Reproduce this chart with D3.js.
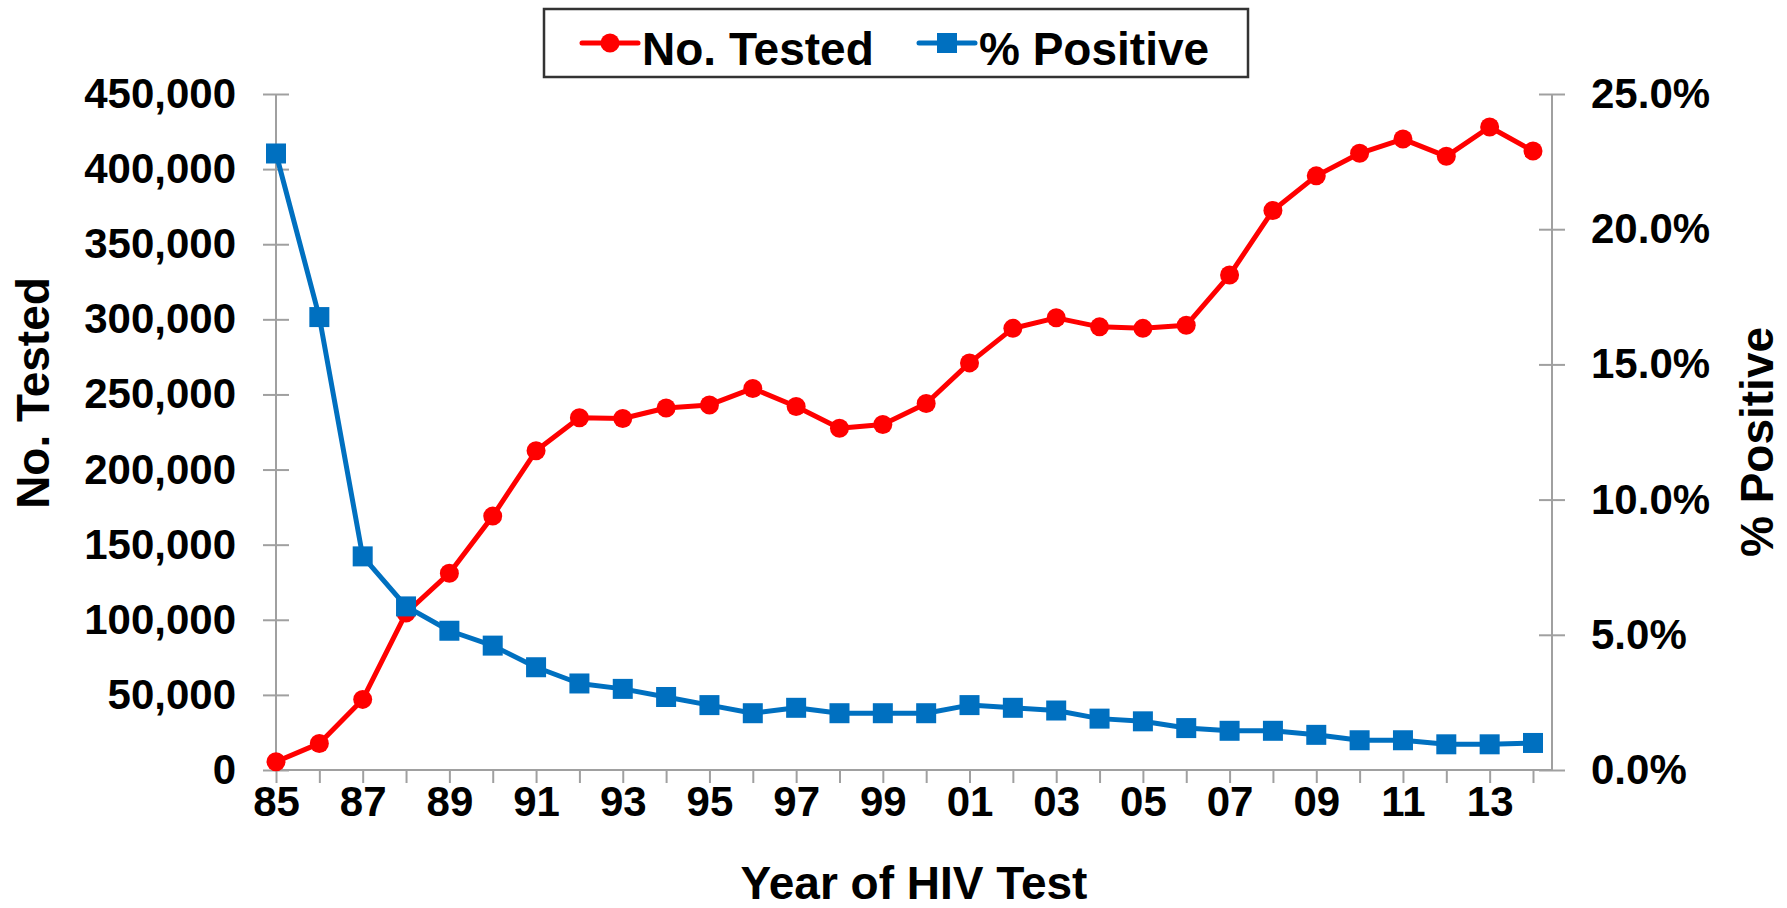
<!DOCTYPE html>
<html>
<head>
<meta charset="utf-8">
<script src="https://cdn.jsdelivr.net/npm/d3@7"></script>
<style>
  body { margin: 0; background: #fff; }
  text { font-family: "Liberation Sans", Arial, sans-serif; font-weight: bold; fill: #000; }
</style>
</head>
<body>
<svg id="chart" width="1787" height="908"></svg>
<script>
// HIV testing: number tested vs percent positive, 1985-2014

var years = [1985, 1986, 1987, 1988, 1989, 1990, 1991, 1992, 1993, 1994,
             1995, 1996, 1997, 1998, 1999, 2000, 2001, 2002, 2003, 2004,
             2005, 2006, 2007, 2008, 2009, 2010, 2011, 2012, 2013, 2014];

var noTested = [5500, 17700, 47000, 104500, 131000, 169000, 212500, 234500, 234000, 241000,
                243000, 254000, 242000, 227500, 230000, 244000, 271000, 294000, 301000, 295000,
                294000, 296000, 329500, 372500, 395500, 410500, 420000, 408500, 428000, 412000];

// percent values
var pctPositive = [22.8, 16.75, 7.9, 6.05, 5.15, 4.6, 3.8, 3.2, 3.0, 2.7,
                   2.4, 2.1, 2.3, 2.1, 2.1, 2.1, 2.4, 2.3, 2.2, 1.9,
                   1.8, 1.55, 1.45, 1.45, 1.3, 1.1, 1.1, 0.95, 0.95, 1.0];

var leftTicks = [0, 50000, 100000, 150000, 200000, 250000, 300000, 350000, 400000, 450000];
var rightTicks = [0, 5, 10, 15, 20, 25];
var seriesNames = ["No. Tested", "% Positive"];

var red = "#ff0000";
var blue = "#0070c0";
var axisColor = "#a0a0a0";

var svg = d3.select("#chart");

// plot box (window.top is read-only, so no "top" here)
var pLeft = 276, pRight = 1552, pTop = 94, pBottom = 770;

var x = d3.scaleLinear().domain([1985, 2014]).range([pLeft, 1533]);
var yL = d3.scaleLinear().domain([0, 450000]).range([pBottom, pTop]);
var yR = d3.scaleLinear().domain([0, 25]).range([pBottom, pTop]);

// baseline across the full plot
svg.append("line")
  .attr("x1", pLeft).attr("x2", pRight)
  .attr("y1", pBottom).attr("y2", pBottom)
  .attr("stroke", axisColor).attr("stroke-width", 2);

// x axis
var xAxis = svg.append("g")
  .attr("transform", "translate(0," + pBottom + ")")
  .call(d3.axisBottom(x)
    .tickValues(years)
    .tickSize(13)
    .tickPadding(3)
    .tickFormat(function(d) { return (d % 2 == 1) ? String(d % 100).padStart(2, "0") : ""; }));
xAxis.select(".domain").remove();
xAxis.selectAll("line").attr("stroke", axisColor).attr("stroke-width", 2);
xAxis.selectAll("text").style("font-size", "42px").attr("dy", "0.71em");

// left axis
var lAxis = svg.append("g")
  .attr("transform", "translate(" + pLeft + ",0)")
  .call(d3.axisLeft(yL)
    .tickValues(leftTicks)
    .tickSize(13)
    .tickPadding(27)
    .tickFormat(d3.format(",")));
lAxis.select(".domain").attr("stroke", axisColor).attr("stroke-width", 2).attr("d", "M0," + pTop + "V" + pBottom);
lAxis.selectAll(".tick line").attr("x1", 13).attr("stroke", axisColor).attr("stroke-width", 2);
lAxis.selectAll("text").style("font-size", "42px");

// right axis
var rAxis = svg.append("g")
  .attr("transform", "translate(" + pRight + ",0)")
  .call(d3.axisRight(yR)
    .tickValues(rightTicks)
    .tickSize(13)
    .tickPadding(26)
    .tickFormat(function(d) { return d.toFixed(1) + "%"; }));
rAxis.select(".domain").attr("stroke", axisColor).attr("stroke-width", 2).attr("d", "M0," + pTop + "V" + pBottom);
rAxis.selectAll(".tick line").attr("x1", -13).attr("stroke", axisColor).attr("stroke-width", 2);
rAxis.selectAll("text").style("font-size", "42px");

// axis titles
svg.append("text")
  .attr("transform", "translate(49,393) rotate(-90)")
  .attr("text-anchor", "middle")
  .style("font-size", "46px")
  .text("No.  Tested");

svg.append("text")
  .attr("transform", "translate(1773,442) rotate(-90)")
  .attr("text-anchor", "middle")
  .style("font-size", "46px")
  .text("% Positive");

svg.append("text")
  .attr("x", (pLeft + pRight) / 2)
  .attr("y", 899)
  .attr("text-anchor", "middle")
  .style("font-size", "46px")
  .text("Year of HIV Test");

// series data
var testedData = years.map(function(y, i) { return {year: y, v: noTested[i]}; });
var posData = years.map(function(y, i) { return {year: y, v: pctPositive[i]}; });

var lineL = d3.line().x(function(d) { return x(d.year); }).y(function(d) { return yL(d.v); });
var lineR = d3.line().x(function(d) { return x(d.year); }).y(function(d) { return yR(d.v); });

// red series
svg.append("path")
  .attr("d", lineL(testedData))
  .attr("fill", "none").attr("stroke", red).attr("stroke-width", 5)
  .attr("stroke-linejoin", "round");

svg.selectAll(".dotRed")
  .data(testedData)
  .enter().append("circle")
    .attr("class", "dotRed")
    .attr("cx", function(d) { return x(d.year); })
    .attr("cy", function(d) { return yL(d.v); })
    .attr("r", 9.5)
    .attr("fill", red);

// blue series
svg.append("path")
  .attr("d", lineR(posData))
  .attr("fill", "none").attr("stroke", blue).attr("stroke-width", 5)
  .attr("stroke-linejoin", "round");

var sq = 20;
svg.selectAll(".dotBlue")
  .data(posData)
  .enter().append("rect")
    .attr("class", "dotBlue")
    .attr("x", function(d) { return x(d.year) - sq / 2; })
    .attr("y", function(d) { return yR(d.v) - sq / 2; })
    .attr("width", sq).attr("height", sq)
    .attr("fill", blue);

// legend
var legend = svg.append("g");
legend.append("rect")
  .attr("x", 544).attr("y", 9)
  .attr("width", 704).attr("height", 68)
  .attr("fill", "#fff").attr("stroke", "#333").attr("stroke-width", 2.5);

var legItems = [
  {name: seriesNames[0], color: red, x0: 582, shape: "circle"},
  {name: seriesNames[1], color: blue, x0: 919, shape: "square"}
];

legItems.forEach(function(it) {
  legend.append("line")
    .attr("x1", it.x0).attr("x2", it.x0 + 56)
    .attr("y1", 43).attr("y2", 43)
    .attr("stroke", it.color).attr("stroke-width", 5)
    .attr("stroke-linecap", "round");
  if (it.shape == "circle") {
    legend.append("circle").attr("cx", it.x0 + 28).attr("cy", 43).attr("r", 9.5).attr("fill", it.color);
  } else {
    legend.append("rect").attr("x", it.x0 + 18).attr("y", 33).attr("width", 20).attr("height", 20).attr("fill", it.color);
  }
  legend.append("text")
    .attr("x", it.x0 + 60)
    .attr("y", 65)
    .style("font-size", "46px")
    .text(it.name);
});
</script>
</body>
</html>
